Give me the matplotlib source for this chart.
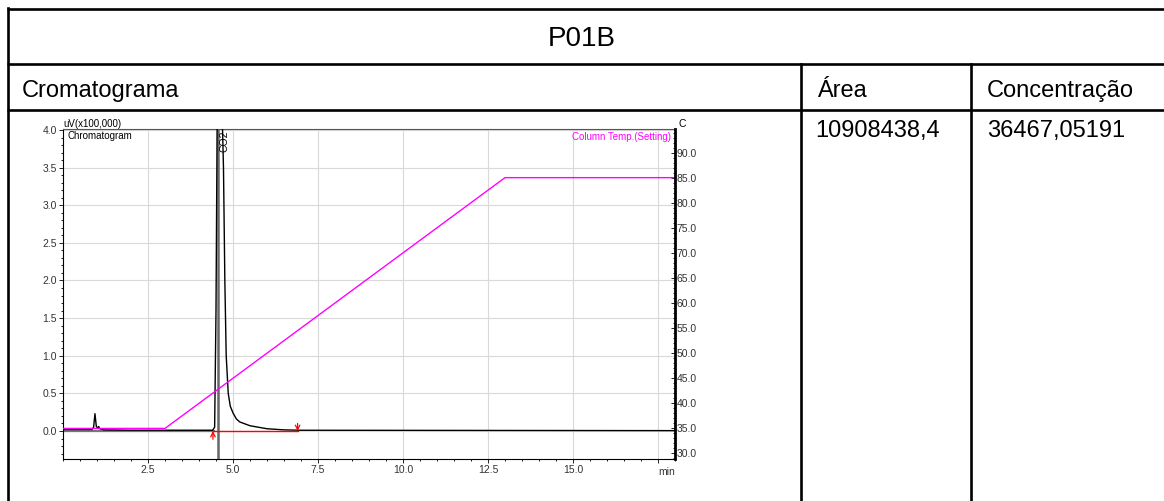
import matplotlib
matplotlib.use('Agg')
from matplotlib import pyplot as plt
from matplotlib.ticker import MultipleLocator

plt.rcParams['font.family'] = ['Liberation Sans', 'DejaVu Sans']

# sample info
sample_name = 'P01B'
headers = ['Cromatograma', 'Área', 'Concentração']
area_value = '10908438,4'
conc_value = '36467,05191'

# detector signal, uV x 100,000 against retention time (min)
time_min = [0.0, 0.85, 0.90, 0.94, 0.98, 1.02, 1.05, 1.08, 1.20, 2.00, 4.40,
            4.46, 4.50, 4.54, 4.66, 4.72, 4.76, 4.80, 4.86, 4.92, 5.00, 5.10,
            5.20, 5.50, 6.00, 6.50, 7.00, 18.0]
signal = [0.02, 0.02, 0.05, 0.23, 0.06, 0.04, 0.06, 0.03, 0.015, 0.01, 0.01,
          0.05, 1.60, 4.60, 4.60, 3.50, 2.00, 1.00, 0.50, 0.33, 0.24, 0.16,
          0.12, 0.07, 0.03, 0.015, 0.01, 0.005]

# oven program (setting)
temp_time = [0.0, 3.0, 13.0, 18.0]
temp_value = [35.0, 35.0, 85.0, 85.0]

# integration of the CO2 peak
peak_name = 'CO2'
peak_rt = 4.56
peak_start = 4.41
peak_end = 6.9
pre_baseline = [0.0, 4.45]

W, H = 1164, 501
fig = plt.figure(figsize=(W / 100, H / 100), dpi=100)

# table frame drawn in pixel units
tab = fig.add_axes([0, 0, 1, 1])
tab.set_xlim(0, W)
tab.set_ylim(H, 0)
tab.axis('off')
lw_tab = 1.9
for y in [9, 64, 110]:
    tab.plot([7, W], [y, y], color='black', lw=lw_tab, solid_capstyle='butt')
tab.plot([8, 8], [8, H], color='black', lw=lw_tab)
for x in [801, 971]:
    tab.plot([x, x], [64, H], color='black', lw=lw_tab)

tab.text(582, 46, sample_name, ha='center', va='baseline', fontsize=20)
tab.text(22, 97, headers[0], ha='left', va='baseline', fontsize=17)
tab.text(817, 97, headers[1], ha='left', va='baseline', fontsize=17)
tab.text(987, 97, headers[2], ha='left', va='baseline', fontsize=17)
tab.text(815, 137, area_value, ha='left', va='baseline', fontsize=17)
tab.text(987, 137, conc_value, ha='left', va='baseline', fontsize=17)

# chromatogram
x0, y0, x1, y1 = 63, 129, 675, 459
ax = fig.add_axes([x0 / W, 1 - y1 / H, (x1 - x0) / W, (y1 - y0) / H])
ax.set_xlim(0, 18)
ax.set_ylim(-0.372, 4.013)
ax2 = ax.twinx()
ax2.set_ylim(28.9, 94.7)

grid_c = '#d9d9d9'
ax.set_xticks([2.5, 5.0, 7.5, 10.0, 12.5, 15.0, 17.5])
ax.set_xticklabels(['2.5', '5.0', '7.5', '10.0', '12.5', '15.0', ''])
ax.xaxis.set_minor_locator(MultipleLocator(0.5))
ax.set_yticks([0.0, 0.5, 1.0, 1.5, 2.0, 2.5, 3.0, 3.5, 4.0])
ax.set_yticklabels(['0.0', '0.5', '1.0', '1.5', '2.0', '2.5', '3.0', '3.5', '4.0'])
ax.yaxis.set_minor_locator(MultipleLocator(0.1))
ax.grid(True, which='major', color=grid_c, lw=0.8)
ax.set_axisbelow(True)
ax.tick_params(axis='both', which='major', length=3, width=0.6, labelsize=7.5,
               labelcolor='#333333', pad=1.5)
ax.tick_params(axis='both', which='minor', length=1.5, width=0.6)
for s in ['left', 'bottom']:
    ax.spines[s].set_linewidth(0.8)
ax.spines['top'].set_color('#555555')
ax.spines['right'].set_visible(False)

ax2.set_yticks([30, 35, 40, 45, 50, 55, 60, 65, 70, 75, 80, 85, 90])
ax2.set_yticklabels(['%.1f' % v for v in ax2.get_yticks()])
ax2.yaxis.set_minor_locator(MultipleLocator(1))
ax2.tick_params(axis='y', which='major', direction='in', length=3, width=0.6,
                labelsize=7.5, labelcolor='#333333', pad=1)
ax2.tick_params(axis='y', which='minor', direction='in', length=1.5, width=0.6)
ax2.spines['right'].set_linewidth(2)
for s in ['left', 'top', 'bottom']:
    ax2.spines[s].set_visible(False)

# signal, baseline and peak marker
ax.plot(pre_baseline, [0, 0], color='#777777', lw=1.6, zorder=2)
ax.plot(time_min, signal, color='black', lw=1.0, zorder=3)
ax.plot([peak_start, peak_end], [0, 0], color='red', lw=1.0, zorder=3)
ax.axvline(peak_rt, color='#666666', lw=1.8, zorder=2)
ax.annotate('', xy=(peak_start, 0.0), xytext=(peak_start, -0.11),
            arrowprops=dict(arrowstyle='->', color='red', lw=0.9,
                            shrinkA=0, shrinkB=0, mutation_scale=8))
ax.annotate('', xy=(peak_end, 0.0), xytext=(peak_end, 0.1),
            arrowprops=dict(arrowstyle='->', color='red', lw=0.9,
                            shrinkA=0, shrinkB=0, mutation_scale=8))
ax.text(peak_rt + 0.2, 3.99, peak_name, rotation=90, ha='center', va='top',
        fontsize=7.5)

ax2.plot(temp_time, temp_value, color='#ff00ff', lw=1.0)

ax.text(0, 1.0, 'uV(x100,000)', transform=ax.transAxes, ha='left',
        va='bottom', fontsize=7)
ax.text(0.007, 0.995, 'Chromatogram', transform=ax.transAxes, ha='left',
        va='top', fontsize=7)
ax.text(0.993, 0.99, 'Column Temp.(Setting)', transform=ax.transAxes,
        ha='right', va='top', fontsize=7, color='#ff00ff')
ax.text(1.005, 1.0, 'C', transform=ax.transAxes, ha='left', va='bottom',
        fontsize=7.5)
ax.text(1.0, -0.025, 'min', transform=ax.transAxes, ha='right', va='top',
        fontsize=7.5, color='#333333')

fig.savefig('out.png', dpi=100)
